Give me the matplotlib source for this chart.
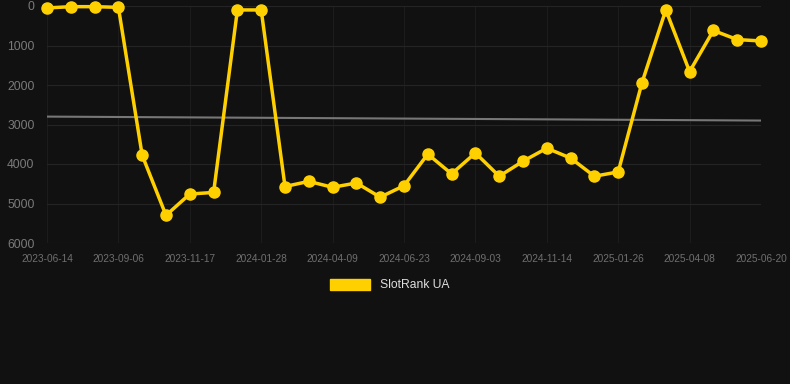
import matplotlib.pyplot as plt
from matplotlib.patches import Patch

# rank per sample (lower = better)
ranks = [50, 17, 17, 34, 3780, 5300, 4760, 4720, 100, 100,
         4570, 4440, 4590, 4480, 4840, 4550, 3750, 4250, 3720, 4310,
         3930, 3600, 3850, 4310, 4200, 1940, 100, 1660, 620, 850, 885]
tick_labels = ['2023-06-14', '2023-09-06', '2023-11-17', '2024-01-28', '2024-04-09',
               '2024-06-23', '2024-09-03', '2024-11-14', '2025-01-26', '2025-04-08',
               '2025-06-20']
trend = [2800, 2900]

plt.rcParams['font.family'] = ['Liberation Sans', 'DejaVu Sans']

fig = plt.figure(figsize=(7.9, 3.84), dpi=100, facecolor='#111111')
ax = fig.add_axes([47/790, 1 - 243/384, (761-47)/790, (243-6)/384])
ax.set_facecolor('#111111')

x = list(range(len(ranks)))
ax.plot([0, len(ranks) - 1], trend, color='#777777', lw=1.5, zorder=2)
ax.plot(x, ranks, color='#FFD000', lw=2.5, marker='o', ms=8, zorder=3, clip_on=False)

ax.set_xlim(0, len(ranks) - 1)
ax.set_ylim(6000, 0)
ax.set_yticks(range(0, 6001, 1000))
ax.set_xticks(range(0, len(ranks), 3))
ax.set_xticklabels(tick_labels)

ax.yaxis.grid(True, color='#242424', lw=0.8)
ax.xaxis.grid(True, color='#1c1c1c', lw=0.8)
for s in ax.spines.values():
    s.set_visible(False)
ax.tick_params(axis='y', colors='#7a7a7a', labelsize=8.7, length=0, pad=9)
ax.tick_params(axis='x', colors='#6f6f6f', labelsize=7.3, length=0, pad=8)

fig.legend(handles=[Patch(color='#FFD000')], labels=['SlotRank UA'],
           loc='center', bbox_to_anchor=(390/790, 1 - 285/384), frameon=False,
           fontsize=8.7, labelcolor='#dddddd', handlelength=3.3, handleheight=1.0)

fig.savefig('out.png', dpi=100, facecolor=fig.get_facecolor())
